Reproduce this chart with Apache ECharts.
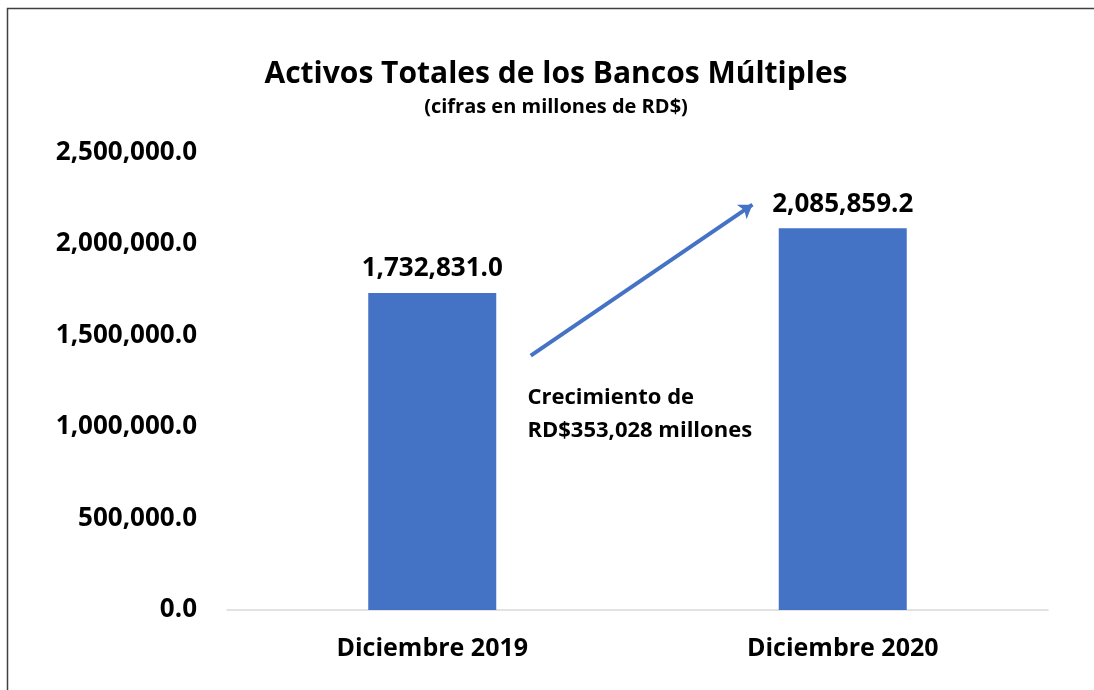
<!DOCTYPE html>
<html>
<head>
<meta charset="utf-8">
<script src="https://cdn.jsdelivr.net/npm/echarts@6/dist/echarts.min.js"></script>
<style>
  html, body { margin: 0; padding: 0; background: #fff; }
  #chart { width: 1094px; height: 690px; }
</style>
</head>
<body>
<div id="chart"></div>
<script>
// Activos totales, cifras en millones de RD$
const categories = ['Diciembre 2019', 'Diciembre 2020'];
const activos = [1732831.0, 2085859.2];
const yTicks = [0, 500000, 1000000, 1500000, 2000000, 2500000];
const notaCrecimiento = ['Crecimiento de', 'RD$353,028 millones'];
// arrow from/to in (band position, value) units
const flechaInicio = [0.24, 1390000];
const flechaFin = [0.78, 2215000];
const notaPos = [0.232, 1071000];

const FONT = '"Open Sans", sans-serif';
const BLUE = '#4472C4';

function fmt(v) {
  return v.toLocaleString('en-US', { minimumFractionDigits: 1, maximumFractionDigits: 1 });
}

const chart = echarts.init(document.getElementById('chart'));
chart.setOption({
  backgroundColor: '#fff',
  animation: false,
  title: {
    text: 'Activos Totales de los Bancos Múltiples',
    subtext: '(cifras en millones de RD$)',
    left: 551, top: 54, textAlign: 'center',
    itemGap: 8,
    textStyle: { fontFamily: FONT, fontWeight: 'bold', fontSize: 30, color: '#000' },
    subtextStyle: { fontFamily: FONT, fontWeight: 'bold', fontSize: 20, color: '#000' }
  },
  grid: { left: 227, right: 46, top: 152.5, bottom: 80, containLabel: false },
  xAxis: [{
    type: 'category',
    data: categories,
    axisLine: { lineStyle: { color: '#d9d9d9', width: 1.5 } },
    axisTick: { show: false },
    axisLabel: { fontFamily: FONT, fontWeight: 'bold', fontSize: 25, color: '#000', margin: 26 }
  }, {
    type: 'value', min: -0.5, max: 1.5, show: false
  }],
  yAxis: {
    type: 'value',
    min: yTicks[0], max: yTicks[yTicks.length - 1], interval: yTicks[1] - yTicks[0],
    axisLine: { show: false },
    axisTick: { show: false },
    splitLine: { show: false },
    axisLabel: { fontFamily: FONT, fontWeight: 'bold', fontSize: 26, color: '#000', margin: 30, formatter: fmt }
  },
  series: [{
    type: 'bar',
    data: activos,
    barWidth: 128,
    itemStyle: { color: BLUE },
    label: {
      show: true, position: 'top', distance: 11,
      fontFamily: FONT, fontWeight: 'bold', fontSize: 26, color: '#000',
      formatter: p => fmt(p.value)
    }
  }, {
    type: 'lines',
    coordinateSystem: 'cartesian2d',
    xAxisIndex: 1,
    symbol: ['none', 'arrow'],
    symbolSize: 13,
    lineStyle: { color: BLUE, width: 4, opacity: 1, curveness: 0 },
    data: [{ coords: [flechaInicio, flechaFin] }]
  }, {
    type: 'scatter',
    xAxisIndex: 1,
    symbolSize: 0,
    itemStyle: { opacity: 1 },
    data: [notaPos],
    label: {
      show: true, position: 'right', distance: 0, align: 'left',
      fontFamily: FONT, fontWeight: 'bold', fontSize: 22, color: '#000', lineHeight: 33,
      formatter: () => notaCrecimiento.join('\n')
    }
  }],
  graphic: [{
    type: 'rect',
    shape: { x: 7.5, y: 8.5, width: 1200, height: 800 },
    style: { fill: 'none', stroke: '#404040', lineWidth: 1.5 },
    silent: true
  }]
});
</script>
</body>
</html>
